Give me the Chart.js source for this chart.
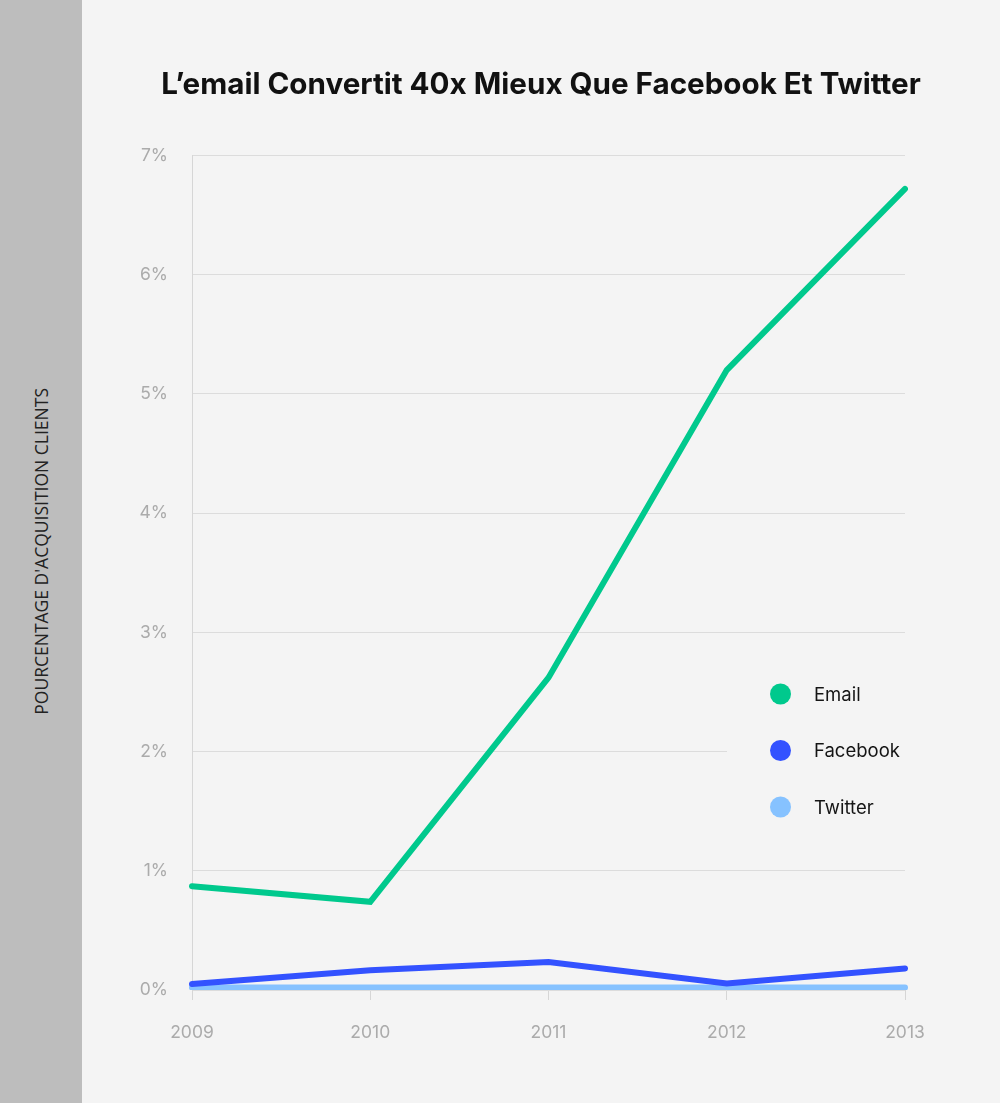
<!DOCTYPE html>
<html>
<head>
<meta charset="utf-8">
<script src="https://cdn.jsdelivr.net/npm/chart.js@4.4.1/dist/chart.umd.min.js"></script>
<style>
  html, body { margin: 0; padding: 0; background: #f4f4f4; }
  #page { display: flex; width: 1000px; height: 1103px; }
  #side {
    width: 82px; height: 1103px; background: #bdbdbd;
    display: flex; align-items: center; justify-content: center;
  }
  #side span {
    writing-mode: vertical-rl; transform: rotate(180deg);
    font-family: "Open Sans", sans-serif; font-size: 17.5px; color: #222;
    white-space: nowrap;
  }
  #chartBox { position: relative; width: 918px; height: 1103px; }
</style>
</head>
<body>
<div id="page">
  <div id="side"><span>POURCENTAGE D'ACQUISITION CLIENTS</span></div>
  <div id="chartBox"><canvas id="emailChart"></canvas></div>
</div>
<script>
const years = ["2009", "2010", "2011", "2012", "2013"];
const emailValues = [0.87, 0.74, 2.62, 5.2, 6.72];
const facebookValues = [0.05, 0.165, 0.235, 0.055, 0.18];
const twitterValues = [0.02, 0.02, 0.02, 0.02, 0.02];
const seriesNames = ["Email", "Facebook", "Twitter"];
const seriesColors = ["#00c98d", "#3352ff", "#86c2ff"];
const yTickLabels = ["0%", "1%", "2%", "3%", "4%", "5%", "6%", "7%"];

// legend sits inside the plot, right side, over the gridlines
const insideLegend = {
  id: 'insideLegend',
  beforeDatasetsDraw(chart) {
    const { ctx, chartArea } = chart;
    const right = chartArea.right;
    const bottom = chartArea.bottom;
    ctx.save();
    ctx.fillStyle = '#f4f4f4';
    ctx.fillRect(right - 178, bottom - 325, 180, 170);
    chart.data.datasets.forEach((ds, i) => {
      const y = bottom - 296 + i * 56.5;
      ctx.beginPath();
      ctx.arc(right - 124.5, y, 10.5, 0, Math.PI * 2);
      ctx.fillStyle = ds.borderColor;
      ctx.fill();
      ctx.fillStyle = '#151515';
      ctx.font = '18.5px Inter';
      ctx.textBaseline = 'middle';
      ctx.textAlign = 'left';
      ctx.fillText(ds.label, right - 91, y + 1);
    });
    ctx.restore();
  }
};

const tickFont = { family: 'Inter', size: 17.5 };

new Chart(document.getElementById('emailChart'), {
  type: 'line',
  data: {
    labels: years,
    datasets: [
      { label: seriesNames[0], data: emailValues, borderColor: seriesColors[0] },
      { label: seriesNames[1], data: facebookValues, borderColor: seriesColors[1] },
      { label: seriesNames[2], data: twitterValues, borderColor: seriesColors[2] },
    ].map(ds => Object.assign(ds, {
      borderWidth: 6,
      tension: 0,
      pointRadius: 0,
      fill: false,
      borderCapStyle: 'round',
      borderJoinStyle: 'miter',
    })),
  },
  options: {
    responsive: true,
    maintainAspectRatio: false,
    animation: false,
    layout: { padding: { left: 0, right: 0, top: 0, bottom: 38 } },
    plugins: {
      legend: { display: false },
      tooltip: { enabled: false },
      title: {
        display: true,
        text: 'L’email Convertit 40x Mieux Que Facebook Et Twitter',
        color: '#111',
        font: { family: 'Inter', size: 29.6, weight: '700' },
        padding: { top: 67, bottom: 53 },
      },
    },
    scales: {
      x: {
        grid: { drawOnChartArea: false, drawTicks: true, tickLength: 10, color: '#d6d6d6' },
        border: { display: false },
        ticks: { color: '#ababab', font: tickFont, padding: 22 },
      },
      y: {
        min: 0,
        max: 7,
        afterFit(scale) { scale.width = 110; },
        grid: { color: '#dcdcdc', drawTicks: false },
        border: { display: true, color: '#d6d6d6' },
        ticks: {
          stepSize: 1,
          padding: 24,
          color: '#ababab',
          font: tickFont,
          callback: (v, i) => yTickLabels[i],
        },
      },
      // empty right margin so the title stays centred on the whole canvas
      yRight: {
        position: 'right',
        grid: { display: false },
        border: { display: false },
        ticks: { display: false },
        afterFit(scale) { scale.width = 95; },
      },
    },
  },
  plugins: [insideLegend],
});
</script>
</body>
</html>
